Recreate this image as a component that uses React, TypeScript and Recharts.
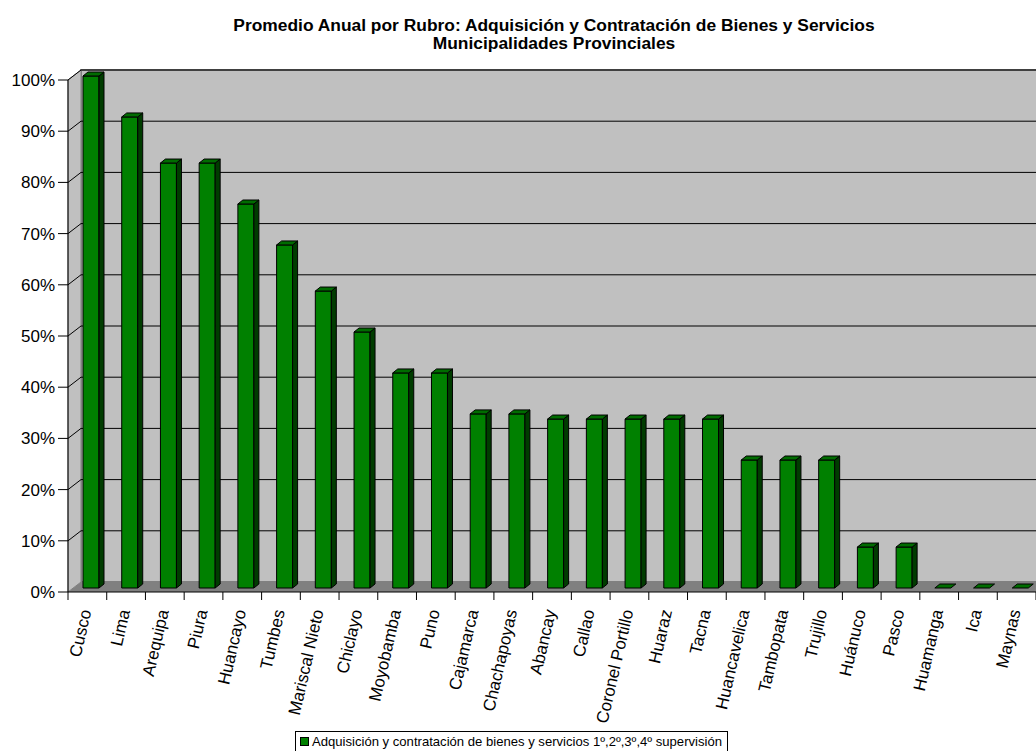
import { BarChart, Bar, XAxis, YAxis, CartesianGrid } from "recharts"

const provincias = [
  "Cusco", "Lima", "Arequipa", "Piura", "Huancayo", "Tumbes", "Mariscal Nieto",
  "Chiclayo", "Moyobamba", "Puno", "Cajamarca", "Chachapoyas", "Abancay", "Callao",
  "Coronel Portillo", "Huaraz", "Tacna", "Huancavelica", "Tambopata", "Trujillo",
  "Huánuco", "Pasco", "Huamanga", "Ica", "Maynas",
]
const promedios = [
  100, 92, 83, 83, 75, 67, 58, 50, 42, 42, 34, 34, 33, 33, 33, 33, 33, 25, 25, 25, 8, 8, 0, 0, 0,
]
const yTicks = [0, 10, 20, 30, 40, 50, 60, 70, 80, 90, 100]
const serieNombre = "Adquisición y contratación de bienes y servicios 1º,2º,3º,4º supervisión"
const titulo = [
  "Promedio Anual por Rubro: Adquisición y Contratación de Bienes y Servicios",
  "Municipalidades Provinciales",
]

const data = provincias.map((provincia, i) => ({ provincia, valor: promedios[i] }))

const FONT = "'Liberation Sans', Arial, sans-serif"
// pseudo-3D depth (Excel style): back wall offset and bar offsets
const WALL_DX = 13
const WALL_DY = 10
const BAR_DX = 4
const BAR_DY = 4
const BAR_DEPTH_X = 5
const BAR_DEPTH_Y = 4

function Bar3D(props: any) {
  const { x, y, width, height } = props
  const fx = x + BAR_DX
  const fy = y - BAR_DY
  const h = Math.max(height, 0)
  const top = `${fx},${fy} ${fx + BAR_DEPTH_X},${fy - BAR_DEPTH_Y} ${fx + width + BAR_DEPTH_X},${fy - BAR_DEPTH_Y} ${fx + width},${fy}`
  const side = `${fx + width},${fy} ${fx + width + BAR_DEPTH_X},${fy - BAR_DEPTH_Y} ${fx + width + BAR_DEPTH_X},${fy + h - BAR_DEPTH_Y} ${fx + width},${fy + h}`
  return (
    <g stroke="#000" strokeWidth={1} strokeLinejoin="round">
      {h > 0 && <rect x={fx} y={fy} width={width} height={h} fill="#008000" />}
      {h > 0 && <polygon points={side} fill="#003c00" />}
      <polygon points={top} fill="#006c00" />
    </g>
  )
}

// grid lines are drawn on the back wall, with a diagonal on the side wall
function WallLine(props: any) {
  const { x1, x2, y1, index } = props
  const top = props.y ?? 80
  const bottom = top + (props.height ?? 512)
  const isFloor = Math.abs(y1 - bottom) < 0.5
  return (
    <g>
      {index === 0 && (
        <g>
          <rect
            x={x1 + WALL_DX}
            y={top - WALL_DY}
            width={x2 - x1}
            height={bottom - top}
            fill="#c0c0c0"
            stroke="#808080"
            strokeWidth={2}
          />
          <polygon
            points={`${x1},${top} ${x1 + WALL_DX},${top - WALL_DY} ${x1 + WALL_DX},${bottom - WALL_DY} ${x1},${bottom}`}
            fill="#c0c0c0"
            stroke="#808080"
            strokeWidth={1}
          />
          <polygon
            points={`${x1},${bottom} ${x1 + WALL_DX},${bottom - WALL_DY} ${x2 + WALL_DX},${bottom - WALL_DY} ${x2},${bottom}`}
            fill="#808080"
          />
        </g>
      )}
      {!isFloor && (
        <g stroke="#000" strokeWidth={1}>
          <line x1={x1} y1={y1} x2={x1 + WALL_DX} y2={y1 - WALL_DY} />
          <line x1={x1 + WALL_DX} y1={y1 - WALL_DY} x2={x2 + WALL_DX} y2={y1 - WALL_DY} />
        </g>
      )}
    </g>
  )
}

function XTick(props: any) {
  const { x, y, payload, index, visibleTicksCount } = props
  const half = payload?.offset || 968 / provincias.length / 2
  const tx = x + 4
  const ty = y + 11
  return (
    <g>
      <line x1={x - half} y1={y - 8} x2={x - half} y2={y} stroke="#000" />
      {index === visibleTicksCount - 1 && (
        <line x1={x + half} y1={y - 8} x2={x + half} y2={y} stroke="#000" />
      )}
      <text
        x={tx}
        y={ty}
        transform={`rotate(-77, ${tx}, ${ty})`}
        textAnchor="end"
        fontSize={17}
        fontFamily={FONT}
        fill="#000"
      >
        {payload.value}
      </text>
    </g>
  )
}

export default function App() {
  return (
    <div style={{ position: "absolute", left: 0, top: 0, width: 1036, height: 751, background: "#fff" }}>
      <BarChart
        width={1036}
        height={751}
        data={data}
        margin={{ top: 80, right: 0, bottom: 0, left: 0 }}
      >
        <CartesianGrid horizontal={WallLine} vertical={false} />
        <XAxis
          dataKey="provincia"
          interval={0}
          height={159}
          tickSize={8}
          tickMargin={0}
          tickLine={false}
          axisLine={{ stroke: "#000" }}
          tick={<XTick />}
        />
        <YAxis
          width={68}
          domain={[0, 100]}
          ticks={yTicks}
          tickFormatter={(v: number) => `${v}%`}
          tickSize={10}
          tickMargin={3}
          axisLine={{ stroke: "#000" }}
          tickLine={{ stroke: "#000" }}
          tick={{ fill: "#000", fontSize: 17, fontFamily: FONT }}
        />
        <Bar dataKey="valor" name={serieNombre} barSize={16} shape={<Bar3D />} isAnimationActive={false} />
      </BarChart>
      <svg width={1036} height={751} style={{ position: "absolute", left: 0, top: 0, pointerEvents: "none" }}>
        <text x={554} y={31} textAnchor="middle" fontSize={17.4} fontWeight="bold" fontFamily={FONT}>
          {titulo[0]}
        </text>
        <text x={554} y={49} textAnchor="middle" fontSize={17.4} fontWeight="bold" fontFamily={FONT}>
          {titulo[1]}
        </text>
        <rect x={295.5} y={731.5} width={432} height={20} fill="#fff" stroke="#000" />
        <rect x={300.5} y={737.5} width={8} height={8} fill="#008000" stroke="#000" />
        <text x={312} y={746} fontSize={13.1} fontFamily={FONT}>
          {serieNombre}
        </text>
      </svg>
    </div>
  )
}
